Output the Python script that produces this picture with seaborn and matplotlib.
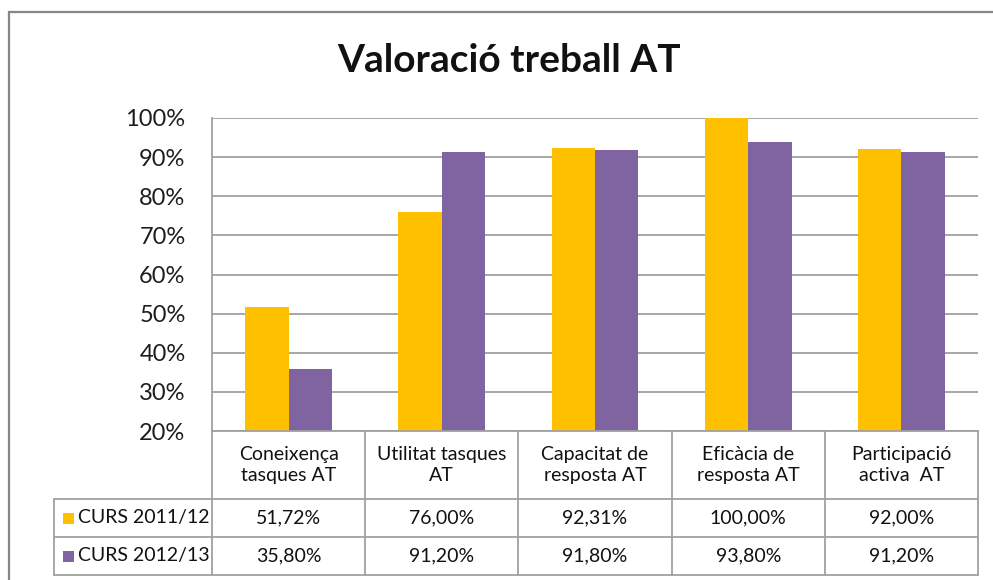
import numpy as np
import pandas as pd
import matplotlib
matplotlib.use("Agg")
import matplotlib.pyplot as plt
import matplotlib.transforms as mtransforms
from matplotlib.patches import Rectangle
import seaborn as sns

# -----------------------------------------
#  Data
# -----------------------------------------
categories = ["Coneixença\ntasques AT", "Utilitat tasques\nAT", "Capacitat de\nresposta AT",
              "Eficàcia de\nresposta AT", "Participació\nactiva  AT"]
series_names = ["CURS 2011/12", "CURS 2012/13"]
curs_2011 = [51.72, 76.00, 92.31, 100.00, 92.00]
curs_2012 = [35.80, 91.20, 91.80, 93.80, 91.20]
y_ticks = [20, 30, 40, 50, 60, 70, 80, 90, 100]
title = "Valoració treball AT"

colors = ["#FFC000", "#8064A2"]
grid_col = "#A0A0A0"

df = pd.DataFrame({
    "cat": categories * 2,
    "serie": [series_names[0]] * 5 + [series_names[1]] * 5,
    "val": curs_2011 + curs_2012,
})

sns.set_theme(style="white")
plt.rcParams["font.family"] = ["Lato", "DejaVu Sans"]

W, H = 993, 580
fig = plt.figure(figsize=(W / 100, H / 100), dpi=100)


def fx(x):
    return x / W


def fy(y):
    return 1 - y / H


# plot area in pixels: x 212..978, y 118..431
ax = fig.add_axes([fx(212), fy(431), (978 - 212) / W, (431 - 118) / H])

sns.barplot(data=df, x="cat", y="val", hue="serie", palette=colors,
            width=0.566, saturation=1, legend=False, ax=ax, linewidth=0)

ax.set_xlim(-0.5, 4.5)
ax.set_ylim(20, 100)
ax.set_yticks(y_ticks)
ax.set_yticklabels([f"{v}%" for v in y_ticks], fontsize=17, color="#1e1e1e")
ax.set_xticks([])
ax.set_xlabel("")
ax.set_ylabel("")
ax.tick_params(axis="y", length=0, pad=19)
ax.yaxis.grid(True, color=grid_col, linewidth=1.3)
ax.set_axisbelow(True)
for s in ["top", "right"]:
    ax.spines[s].set_visible(False)
for s in ["left", "bottom"]:
    ax.spines[s].set_color(grid_col)
    ax.spines[s].set_linewidth(1.3)

# title
fig.text(fx(509), fy(61), title, ha="center", va="center",
         fontsize=28, fontweight="bold", color="#111111")

# -----------------------------------------
#  Data table under the axis
# -----------------------------------------
axh = 431 - 118
tr = mtransforms.blended_transform_factory(ax.transData, ax.transAxes)


def ay(ypx):
    return (431 - ypx) / axh


x_left = -0.5 - (212 - 54) / (766 / 5)
y_head, y_r1, y_r2 = ay(499), ay(537), ay(575)
line_kw = dict(color=grid_col, linewidth=1.3, transform=tr, clip_on=False)

for xb in np.arange(-0.5, 5.0, 1.0):
    ax.plot([xb, xb], [0, y_r2], **line_kw)
for yb in [y_head, y_r1, y_r2]:
    ax.plot([x_left, 4.5], [yb, yb], **line_kw)
ax.plot([x_left, x_left], [y_head, y_r2], **line_kw)

for i, cat in enumerate(categories):
    ax.text(i, ay(465), cat, transform=tr, ha="center", va="center",
            fontsize=14, color="#111111", linespacing=1.25)
    ax.text(i, ay(518), f"{curs_2011[i]:.2f}%".replace(".", ","), transform=tr,
            ha="center", va="center", fontsize=14, color="#111111")
    ax.text(i, ay(556), f"{curs_2012[i]:.2f}%".replace(".", ","), transform=tr,
            ha="center", va="center", fontsize=14, color="#111111")

# legend keys inside table
for name, col, yc in zip(series_names, colors, [518, 556]):
    fig.patches.append(Rectangle((fx(63), fy(yc + 6)), 11 / W, 11 / H,
                                 transform=fig.transFigure, facecolor=col,
                                 edgecolor="none"))
    fig.text(fx(78), fy(yc), name, ha="left", va="center",
             fontsize=14, color="#111111")

# outer chart border
fig.patches.append(Rectangle((fx(9), fy(600)), (1010 - 9) / W, (600 - 12) / H,
                             transform=fig.transFigure, facecolor="none",
                             edgecolor="#868686", linewidth=1.6))

fig.savefig("out.png", dpi=100)
